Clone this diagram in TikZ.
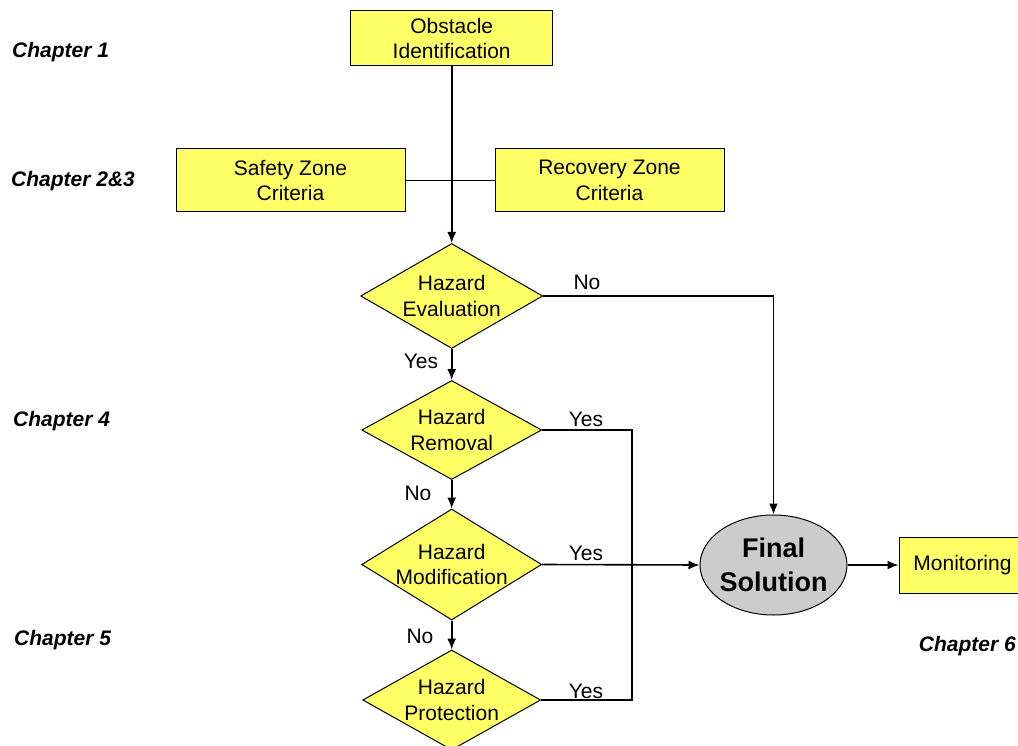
\documentclass[tikz,border=0pt]{standalone}
\usepackage{fontspec}
\setmainfont{Liberation Sans}
\usetikzlibrary{shapes.geometric,arrows.meta}
\definecolor{yel}{HTML}{FFFF66}
\definecolor{gry}{HTML}{CCCCCC}
\begin{document}
\begin{tikzpicture}[x=1pt,y=-1pt,
  box/.style={draw=black,line width=1pt,fill=yel,inner sep=0pt},
  dia/.style={diamond,draw=black,line width=1pt,fill=yel,inner sep=0pt},
  txt/.style={font=\fontsize{21}{25.5}\selectfont,align=center,inner sep=0pt},
  lbl/.style={font=\fontsize{21}{25}\selectfont,inner sep=0pt},
  chap/.style={font=\fontsize{21}{25}\selectfont\bfseries\itshape,inner sep=0pt},
  con/.style={line width=1.6pt,draw=black},
  arr/.style={con,-{Latex[length=11pt,width=9pt]}}]
\clip (0,0) rectangle (1018,746);
\fill[white] (0,0) rectangle (1018,746);
% boxes
\node[box,minimum width=202pt,minimum height=55pt] (ob) at (451.7,38.5) {};
\node[txt] at (ob) {Obstacle\\Identification};
\node[box,minimum width=229pt,minimum height=63pt] (sz) at (290.5,180.5) {};
\node[txt] at (sz) {Safety Zone\\Criteria};
\node[box,minimum width=229pt,minimum height=63pt] (rz) at (609.5,180.5) {};
\node[txt] at (rz) {Recovery Zone\\Criteria};
% diamonds
\node[dia,minimum width=182pt,minimum height=105pt] (ev) at (451.7,296) {};
\node[txt] at (ev) {Hazard\\Evaluation};
\node[dia,minimum width=180pt,minimum height=99pt] (rm) at (451.7,430) {};
\node[txt] at (rm) {Hazard\\Removal};
\node[dia,minimum width=180pt,minimum height=111pt] (md) at (451.7,564.5) {};
\node[txt] at (md) {Hazard\\Modification};
\node[dia,minimum width=178pt,minimum height=100pt] (pr) at (451.7,700) {};
\node[txt] at (pr) {Hazard\\Protection};
% final
\node[ellipse,draw=black,line width=1pt,fill=gry,minimum width=147pt,minimum height=100pt,inner sep=0pt] (fs) at (773.5,565) {};
\node[txt,font=\fontsize{27}{34}\selectfont\bfseries] at (fs) {Final\\Solution};
\node[box,minimum width=127pt,minimum height=56pt] (mo) at (962.5,565) {};
\node[txt] at (mo) {Monitoring};
% connectors
\draw[con] (sz.east) -- (rz.west);
\draw[arr] (ob.south) -- (ev.north);
\draw[arr] (ev.south) -- (rm.north);
\draw[arr] (rm.south) -- (md.north);
\draw[arr] (md.south) -- (pr.north);
\draw[arr] (ev.east) -| (fs.north);
\coordinate (j1) at (632,430);
\coordinate (j2) at (632,700);
\draw[con] (rm.east) -- (j1) -- (j2) -- (pr.east);
\draw[arr] (md.east) -- (fs.west);
\draw[arr] (fs.east) -- (mo.west);
% labels
\node[lbl] (l1) at (587,282) {No};
\node[lbl] (l2) at (421,361) {Yes};
\node[lbl] (l3) at (586,419) {Yes};
\node[lbl] (l4) at (418,493) {No};
\node[lbl] (l5) at (586,553) {Yes};
\node[lbl] (l6) at (420,636) {No};
\node[lbl] (l7) at (586,691) {Yes};
% chapters
\node[chap,anchor=west] (c1) at (12,52) {Chapter 1};
\node[chap,anchor=west] (c2) at (11,181) {Chapter 2\&3};
\node[chap,anchor=west] (c4) at (13,421) {Chapter 4};
\node[chap,anchor=west] (c5) at (14,640) {Chapter 5};
\node[chap,anchor=east] (c6) at (1016,646) {Chapter 6};
\end{tikzpicture}
\end{document}
